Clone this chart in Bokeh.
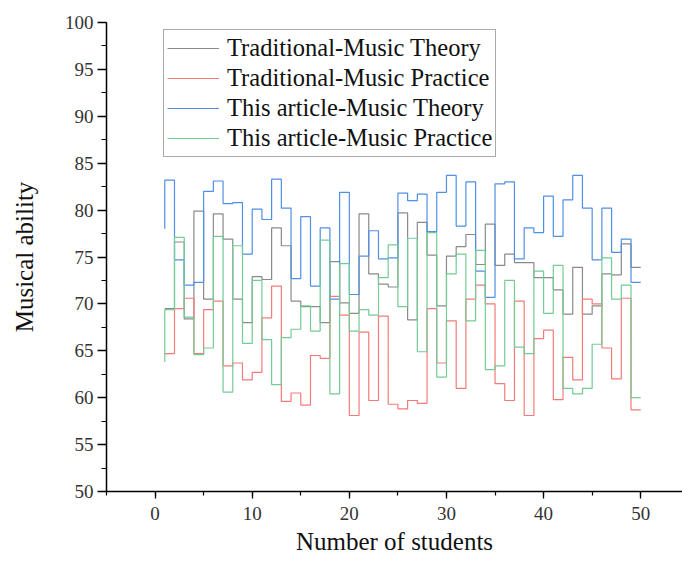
from bokeh.plotting import figure
from bokeh.models import SingleIntervalTicker, Range1d, Legend, LegendItem
from bokeh.embed import file_html
from bokeh.resources import INLINE

students = list(range(1, 51))

trad_theory = [69.5, 69.5, 76.6, 68.4, 79.9, 70.5, 79.6, 76.9, 70.5, 68.0,
               72.9, 72.6, 78.1, 76.2, 70.3, 69.7, 69.7, 68.0, 74.5, 70.1,
               69.0, 79.6, 73.2, 72.1, 71.8, 79.7, 68.3, 78.7, 75.2, 69.8,
               75.1, 76.1, 77.4, 74.2, 78.5, 74.1, 75.3, 74.4, 74.4, 72.8,
               72.8, 71.5, 68.9, 73.9, 68.9, 69.8, 73.2, 73.1, 76.4, 73.9]

trad_practice = [64.7, 64.7, 69.5, 70.6, 64.7, 69.4, 70.3, 63.4, 63.7, 61.9,
                 62.7, 68.5, 71.9, 59.6, 60.5, 59.2, 64.5, 64.2, 70.8, 68.8,
                 58.1, 67.0, 59.7, 68.7, 59.3, 58.8, 59.7, 59.4, 69.5, 63.7,
                 68.2, 61.0, 70.5, 72.0, 70.0, 61.5, 59.7, 70.3, 58.1, 66.3,
                 67.2, 59.8, 64.3, 61.9, 70.5, 70.0, 65.3, 62.0, 70.6, 58.7]

this_theory = [78.0, 83.2, 74.7, 72.0, 72.3, 82.0, 83.1, 80.7, 80.8, 75.3,
               80.1, 79.0, 83.3, 80.2, 72.7, 79.3, 71.9, 78.1, 70.5, 81.9,
               71.0, 75.1, 77.8, 74.8, 74.9, 81.8, 81.0, 81.7, 77.7, 81.9,
               83.7, 78.3, 83.0, 73.5, 70.7, 82.8, 83.0, 74.8, 78.1, 77.6,
               81.5, 77.2, 81.1, 83.7, 80.2, 74.7, 80.2, 75.5, 76.9, 72.3]

this_practice = [63.8, 69.4, 77.1, 68.6, 64.6, 65.3, 77.2, 60.6, 76.2, 65.8,
                 72.5, 66.2, 61.4, 66.4, 67.3, 69.8, 67.1, 76.8, 60.4, 74.3,
                 67.1, 69.4, 68.8, 72.8, 76.3, 69.7, 77.0, 64.9, 77.6, 62.2,
                 73.2, 75.3, 68.2, 75.7, 63.0, 63.4, 72.5, 65.4, 64.7, 73.5,
                 69.0, 74.1, 61.0, 60.4, 61.0, 65.7, 74.9, 70.5, 72.0, 60.0]

series_names = ["Traditional-Music Theory", "Traditional-Music Practice",
                "This article-Music Theory", "This article-Music Practice"]
series_values = [trad_theory, trad_practice, this_theory, this_practice]
series_colors = ["#8a8a8a", "#f47a7a", "#4f8fe6", "#72cc95"]

FONT = "Liberation Serif"

p = figure(width=682, height=563, output_backend="svg", toolbar_location=None,
           x_range=Range1d(-5, 54.3), y_range=Range1d(50, 100),
           min_border_left=106, min_border_right=0, min_border_top=22,
           min_border_bottom=72)

items = []
for name, vals, col in zip(series_names, series_values, series_colors):
    r = p.step(students, vals, mode="before", line_color=col, line_width=1.2)
    items.append(LegendItem(label=name, renderers=[r]))

p.xgrid.visible = False
p.ygrid.visible = False
p.outline_line_color = None
p.background_fill_color = "white"

p.xaxis.ticker = SingleIntervalTicker(interval=10, num_minor_ticks=2)
p.yaxis.ticker = SingleIntervalTicker(interval=5, num_minor_ticks=2)

for ax in (p.xaxis[0], p.yaxis[0]):
    ax.axis_line_color = "black"
    ax.axis_line_width = 1.5
    ax.major_tick_line_color = "black"
    ax.minor_tick_line_color = "black"
    ax.major_tick_line_width = 1.3
    ax.minor_tick_line_width = 1.2
    ax.major_tick_in = 0
    ax.minor_tick_in = 0
    ax.major_label_text_font = FONT
    ax.major_label_text_font_size = "19px"
    ax.major_label_text_color = "#333333"
    ax.axis_label_text_font = FONT
    ax.axis_label_text_font_size = "25px"
    ax.axis_label_text_font_style = "normal"
    ax.axis_label_text_color = "#111111"

p.xaxis.major_tick_out = 7
p.xaxis.minor_tick_out = 4
p.xaxis.major_label_standoff = 8
p.xaxis.axis_label = "Number of students"
p.xaxis.axis_label_standoff = 5

p.yaxis.major_tick_out = 9
p.yaxis.minor_tick_out = 5
p.yaxis.major_label_standoff = 4
p.yaxis.axis_label = "Musical ability"
p.yaxis.axis_label_standoff = 24

legend = Legend(items=items, location=(57, 334))
legend.label_text_font = FONT
legend.label_text_font_size = "24.5px"
legend.label_text_color = "#111111"
legend.glyph_width = 52
legend.glyph_height = 30
legend.label_height = 30
legend.label_standoff = 8
legend.spacing = 0
legend.padding = 3
legend.margin = 0
legend.border_line_color = "#555555"
legend.border_line_width = 1
legend.background_fill_color = "white"
legend.background_fill_alpha = 1
p.add_layout(legend, "center")

open("out.html", "w").write(file_html(p, INLINE))
